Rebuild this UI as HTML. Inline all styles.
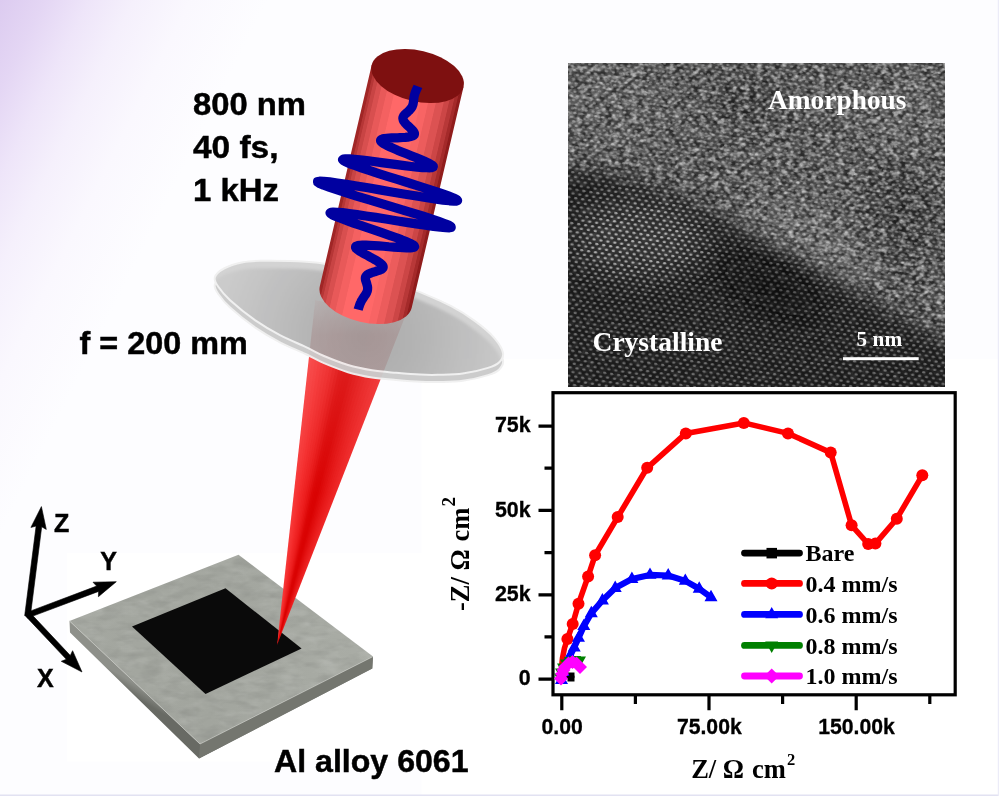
<!DOCTYPE html>
<html lang="en">
<head>
<meta charset="utf-8">
<title>Femtosecond laser processing of Al alloy 6061</title>
<style>
html,body{margin:0;padding:0;background:#fdfdff;}
body{width:999px;height:796px;overflow:hidden;position:relative;font-family:"Liberation Sans",sans-serif;}
svg{position:absolute;left:0;top:0;display:block;}
.sans{font-family:"Liberation Sans",sans-serif;font-weight:bold;fill:#000;}
.serif{font-family:"Liberation Serif",serif;font-weight:bold;fill:#000;}
</style>
</head>
<body>
<svg width="999" height="796" viewBox="0 0 999 796">
<defs>
  <linearGradient id="bg" gradientUnits="userSpaceOnUse" x1="0" y1="0" x2="214.6" y2="107.3">
    <stop offset="0" stop-color="#dccbf0"/>
    <stop offset="0.167" stop-color="#e4d6f4"/>
    <stop offset="0.333" stop-color="#eee5f9"/>
    <stop offset="0.5" stop-color="#f5f0fc"/>
    <stop offset="0.71" stop-color="#faf8fe"/>
    <stop offset="1" stop-color="#fdfdff"/>
  </linearGradient>
  <linearGradient id="cyl" x1="0" y1="0" x2="1" y2="0">
    <stop offset="0.000" stop-color="#a02626"/>
    <stop offset="0.029" stop-color="#a02626"/>
    <stop offset="0.037" stop-color="#b63636"/>
    <stop offset="0.056" stop-color="#b63636"/>
    <stop offset="0.064" stop-color="#c84444"/>
    <stop offset="0.096" stop-color="#c84444"/>
    <stop offset="0.104" stop-color="#d84f4f"/>
    <stop offset="0.149" stop-color="#d84f4f"/>
    <stop offset="0.157" stop-color="#e85959"/>
    <stop offset="0.216" stop-color="#e85959"/>
    <stop offset="0.224" stop-color="#f46161"/>
    <stop offset="0.296" stop-color="#f46161"/>
    <stop offset="0.304" stop-color="#ff6868"/>
    <stop offset="0.589" stop-color="#ff6868"/>
    <stop offset="0.597" stop-color="#f86464"/>
    <stop offset="0.669" stop-color="#f86464"/>
    <stop offset="0.677" stop-color="#ec5c5c"/>
    <stop offset="0.749" stop-color="#ec5c5c"/>
    <stop offset="0.757" stop-color="#dc5252"/>
    <stop offset="0.829" stop-color="#dc5252"/>
    <stop offset="0.837" stop-color="#cc4646"/>
    <stop offset="0.883" stop-color="#cc4646"/>
    <stop offset="0.891" stop-color="#b83838"/>
    <stop offset="0.929" stop-color="#b83838"/>
    <stop offset="0.937" stop-color="#a42a2a"/>
    <stop offset="0.963" stop-color="#a42a2a"/>
    <stop offset="0.971" stop-color="#901c1c"/>
    <stop offset="1.000" stop-color="#901c1c"/>
  </linearGradient>
  <radialGradient id="lens" gradientUnits="userSpaceOnUse" cx="368" cy="330" r="150">
    <stop offset="0" stop-color="#a9a9a9"/>
    <stop offset="0.3" stop-color="#b0b0b0"/>
    <stop offset="0.6" stop-color="#bbbbbb"/>
    <stop offset="0.8" stop-color="#c3c3c3"/>
    <stop offset="1" stop-color="#cacaca"/>
  </radialGradient>
  <linearGradient id="pside" gradientUnits="userSpaceOnUse" x1="134" y1="683" x2="128" y2="693">
    <stop offset="0" stop-color="#8e908a"/>
    <stop offset="1" stop-color="#686a64"/>
  </linearGradient>
  <linearGradient id="plate" gradientUnits="userSpaceOnUse" x1="70" y1="620" x2="372" y2="660">
    <stop offset="0" stop-color="#a4a7a0"/>
    <stop offset="0.5" stop-color="#a2a59e"/>
    <stop offset="1" stop-color="#aaada6"/>
  </linearGradient>
  <mask id="conemask" maskUnits="userSpaceOnUse" x="270" y="295" width="140" height="355"><polygon points="277,645 315.3,300 404.5,318" fill="#fff"/></mask>
  <linearGradient id="conehl" gradientUnits="userSpaceOnUse" x1="0" y1="330" x2="0" y2="495">
    <stop offset="0" stop-color="#fff" stop-opacity="0.13"/>
    <stop offset="1" stop-color="#fff" stop-opacity="0"/>
  </linearGradient>
  <clipPath id="lensclip"><path d="M214.8,277.5 C215.7,274.4 219.3,271.0 224.0,268.5 C228.7,266.0 236.8,263.6 243.0,262.3 C249.2,261.0 253.7,261.0 261.5,260.8 C269.3,260.6 280.6,260.7 290.0,261.0 C299.4,261.3 308.0,261.6 318.0,262.8 C328.0,264.1 338.8,265.9 350.0,268.5 C361.2,271.1 373.9,274.8 385.0,278.5 C396.1,282.2 405.4,286.1 416.3,290.6 C427.2,295.1 440.5,300.6 450.3,305.7 C460.1,310.8 468.1,316.0 475.4,321.4 C482.7,326.8 489.6,332.5 494.2,337.8 C498.8,343.1 502.2,348.9 503.0,353.0 C503.8,357.1 501.5,360.0 499.0,362.5 C496.5,365.0 494.0,366.0 488.0,367.9 C482.0,369.8 471.2,372.5 462.8,373.6 C454.4,374.8 444.8,374.6 437.7,374.8 C430.6,375.0 426.9,374.9 420.0,374.6 C413.1,374.3 404.0,373.5 396.0,372.8 C388.0,372.1 380.0,371.6 372.0,370.3 C364.0,369.0 356.0,367.4 348.0,365.0 C340.0,362.6 331.1,359.0 324.0,356.0 C316.9,353.0 312.8,350.2 305.5,346.8 C298.2,343.4 288.8,339.8 280.4,335.4 C272.0,331.0 263.7,326.2 255.3,320.4 C246.9,314.5 236.2,305.9 230.1,300.3 C224.0,294.7 221.1,290.8 218.5,287.0 C215.9,283.2 213.9,280.6 214.8,277.5 Z"/></clipPath>
  <linearGradient id="beamfade" gradientUnits="userSpaceOnUse" x1="0" y1="300" x2="0" y2="335">
    <stop offset="0" stop-color="#7a2c2c" stop-opacity="0"/>
    <stop offset="1" stop-color="#7a2c2c" stop-opacity="0.12"/>
  </linearGradient>
  <filter id="metal" x="0" y="0" width="100%" height="100%" color-interpolation-filters="sRGB">
    <feTurbulence type="fractalNoise" baseFrequency="0.05 0.12" numOctaves="3" seed="4" result="n"/>
    <feColorMatrix in="n" type="matrix" values="0 0 0 0 1  0 0 0 0 1  0 0 0 0 1  1.8 0 0 0 -0.75" result="w"/>
    <feColorMatrix in="n" type="matrix" values="0 0 0 0 0.2  0 0 0 0 0.2  0 0 0 0 0.2  0 -1.8 0 0 1.05" result="k"/>
    <feMerge><feMergeNode in="w"/><feMergeNode in="k"/></feMerge>
    <feComposite in2="SourceGraphic" operator="in"/>
  </filter>
  <clipPath id="temclip"><rect x="568" y="63" width="377" height="324"/></clipPath>
  <filter id="blur2" x="-5%" y="-10%" width="110%" height="120%"><feGaussianBlur stdDeviation="1.6"/></filter>
  <filter id="blur8" x="-20%" y="-20%" width="140%" height="140%"><feGaussianBlur stdDeviation="9"/></filter>
  <filter id="blur14" x="-30%" y="-30%" width="160%" height="160%"><feGaussianBlur stdDeviation="14"/></filter>
  <filter id="grain" x="0" y="0" width="100%" height="100%" color-interpolation-filters="sRGB">
    <feTurbulence type="fractalNoise" baseFrequency="0.16 0.21" numOctaves="2" seed="11" result="n"/>
    <feColorMatrix in="n" type="matrix" values="0 0 0 0 1  0 0 0 0 1  0 0 0 0 1  2.8 0 0 0 -1.05" result="w"/>
    <feColorMatrix in="n" type="matrix" values="0 0 0 0 0  0 0 0 0 0  0 0 0 0 0  0 -2.8 0 0 1.7" result="k"/>
    <feMerge><feMergeNode in="w"/><feMergeNode in="k"/></feMerge>
  </filter>
  <pattern id="dots" width="7" height="8.4" patternUnits="userSpaceOnUse" patternTransform="rotate(9 568 63)">
    <ellipse cx="1.75" cy="2.1" rx="1.7" ry="1.25" fill="#fff"/>
    <ellipse cx="5.25" cy="6.3" rx="1.7" ry="1.25" fill="#fff"/>
  </pattern>
  <mask id="dotmask" maskUnits="userSpaceOnUse" x="568" y="63" width="377" height="324">
    <rect x="568" y="63" width="377" height="324" fill="#5a5a5a"/>
    <g filter="url(#blur8)">
      <path d="M540,170 C640,172 700,207 760,242 C830,277 890,312 975,362 L975,420 L540,420 Z" fill="#5c5c5c"/>
    </g>
    <g filter="url(#blur14)">
      <ellipse cx="640" cy="240" rx="70" ry="42" fill="#a0a0a0"/>
      <ellipse cx="770" cy="290" rx="55" ry="22" fill="#3c3c3c" transform="rotate(25 770 290)"/>
    </g>
  </mask>
  <mask id="grainmask" maskUnits="userSpaceOnUse" x="568" y="63" width="377" height="324">
    <rect x="568" y="63" width="377" height="324" fill="#fff"/>
    <g filter="url(#blur8)">
      <path d="M540,166 C640,168 700,203 760,238 C830,273 890,308 975,358 L975,420 L540,420 Z" fill="#303030"/>
    </g>
  </mask>
</defs>

<!-- background -->
<rect x="0" y="0" width="999" height="796" fill="#fdfdff"/>
<rect x="0" y="0" width="999" height="796" fill="url(#bg)"/>
<!-- white panels -->
<rect x="421.5" y="359" width="576.5" height="435.5" fill="#ffffff"/>
<rect x="67" y="553" width="360" height="208.5" fill="#ffffff"/>
<rect x="0" y="794.5" width="999" height="1.5" fill="#e2e2f2"/>
<rect x="997.8" y="0" width="1.2" height="796" fill="#ececf8"/>

<g id="scene">
  <!-- plate -->
  <polygon points="69.5,621 70,632.5 199,758.5 372.3,668.5 373,656.6 200,744" fill="url(#pside)"/>
  <polygon points="200,744 373,656.6 372.3,668.5 199,758.5" fill="#74766f"/>
  <polygon points="69.5,621 238.5,554.8 373,656.6 200,744" fill="url(#plate)"/>
  <polygon points="69.5,621 238.5,554.8 373,656.6 200,744" filter="url(#metal)" opacity="0.12"/>
  <polyline points="69.5,621 200,744 373,656.6" fill="none" stroke="#c4c6c0" stroke-width="1" stroke-opacity="0.7"/>
  <polygon points="132,626.5 225.5,588.3 301.6,648.5 205.5,694" fill="#0a0a0a"/>
  <!-- coordinate axes -->
  <g fill="#000" stroke="#000" stroke-width="0.6" stroke-linejoin="miter">
    <polygon points="30.3,616.4 41.7,526.8 46.3,529.4 41.4,506.6 30.9,527.4 36.1,526.1 24.7,615.6"/>
    <polygon points="27.5,618.1 98.6,591.4 98.4,596.7 116.3,581.7 93.0,582.2 96.6,586.1 25.5,612.9"/>
    <polygon points="25.0,615.4 66.3,659.3 61.3,661.3 82.0,672.0 72.6,650.7 70.3,655.5 29.0,611.6"/>
  </g>
  <!-- focused beam -->
  <g id="cone" mask="url(#conemask)"><polygon points="277,647 300.0,297.0 430.0,323.0" fill="#f73838"/><polygon points="277,647 319.0,300.8 430.0,323.0" fill="#f63434"/><polygon points="277,647 322.7,301.5 430.0,323.0" fill="#f53030"/><polygon points="277,647 326.4,302.2 430.0,323.0" fill="#f42b2b"/><polygon points="277,647 330.2,303.0 430.0,323.0" fill="#f12727"/><polygon points="277,647 333.9,303.8 430.0,323.0" fill="#ef2323"/><polygon points="277,647 337.6,304.5 430.0,323.0" fill="#ed1f1f"/><polygon points="277,647 341.3,305.2 430.0,323.0" fill="#ea1a1a"/><polygon points="277,647 345.0,306.0 430.0,323.0" fill="#e61414"/><polygon points="277,647 348.8,306.8 430.0,323.0" fill="#e10e0e"/><polygon points="277,647 352.5,307.5 430.0,323.0" fill="#dd0707"/><polygon points="277,647 356.2,308.2 430.0,323.0" fill="#db0404"/><polygon points="277,647 359.9,309.0 430.0,323.0" fill="#da0303"/><polygon points="277,647 363.6,309.8 430.0,323.0" fill="#da0303"/><polygon points="277,647 367.3,310.5 430.0,323.0" fill="#dc0707"/><polygon points="277,647 371.1,311.2 430.0,323.0" fill="#df0b0b"/><polygon points="277,647 374.8,312.0 430.0,323.0" fill="#e10f0f"/><polygon points="277,647 378.5,312.8 430.0,323.0" fill="#e41313"/><polygon points="277,647 382.2,313.5 430.0,323.0" fill="#e61717"/><polygon points="277,647 385.9,314.2 430.0,323.0" fill="#e81b1b"/><polygon points="277,647 389.6,315.0 430.0,323.0" fill="#ea1e1e"/><polygon points="277,647 393.4,315.8 430.0,323.0" fill="#ec2222"/><polygon points="277,647 397.1,316.5 430.0,323.0" fill="#ee2525"/><polygon points="277,647 400.8,317.2 430.0,323.0" fill="#ef2828"/><rect x="270" y="295" width="140" height="200" fill="url(#conehl)"/></g>
  <!-- lens -->
  <g opacity="0.97">
    <path transform="translate(0,7.2)" d="M214.8,277.5 C215.7,274.4 219.3,271.0 224.0,268.5 C228.7,266.0 236.8,263.6 243.0,262.3 C249.2,261.0 253.7,261.0 261.5,260.8 C269.3,260.6 280.6,260.7 290.0,261.0 C299.4,261.3 308.0,261.6 318.0,262.8 C328.0,264.1 338.8,265.9 350.0,268.5 C361.2,271.1 373.9,274.8 385.0,278.5 C396.1,282.2 405.4,286.1 416.3,290.6 C427.2,295.1 440.5,300.6 450.3,305.7 C460.1,310.8 468.1,316.0 475.4,321.4 C482.7,326.8 489.6,332.5 494.2,337.8 C498.8,343.1 502.2,348.9 503.0,353.0 C503.8,357.1 501.5,360.0 499.0,362.5 C496.5,365.0 494.0,366.0 488.0,367.9 C482.0,369.8 471.2,372.5 462.8,373.6 C454.4,374.8 444.8,374.6 437.7,374.8 C430.6,375.0 426.9,374.9 420.0,374.6 C413.1,374.3 404.0,373.5 396.0,372.8 C388.0,372.1 380.0,371.6 372.0,370.3 C364.0,369.0 356.0,367.4 348.0,365.0 C340.0,362.6 331.1,359.0 324.0,356.0 C316.9,353.0 312.8,350.2 305.5,346.8 C298.2,343.4 288.8,339.8 280.4,335.4 C272.0,331.0 263.7,326.2 255.3,320.4 C246.9,314.5 236.2,305.9 230.1,300.3 C224.0,294.7 221.1,290.8 218.5,287.0 C215.9,283.2 213.9,280.6 214.8,277.5 Z" fill="#cbcbcb" stroke="#f0f0f0" stroke-width="2"/>
    <path d="M214.8,277.5 C215.7,274.4 219.3,271.0 224.0,268.5 C228.7,266.0 236.8,263.6 243.0,262.3 C249.2,261.0 253.7,261.0 261.5,260.8 C269.3,260.6 280.6,260.7 290.0,261.0 C299.4,261.3 308.0,261.6 318.0,262.8 C328.0,264.1 338.8,265.9 350.0,268.5 C361.2,271.1 373.9,274.8 385.0,278.5 C396.1,282.2 405.4,286.1 416.3,290.6 C427.2,295.1 440.5,300.6 450.3,305.7 C460.1,310.8 468.1,316.0 475.4,321.4 C482.7,326.8 489.6,332.5 494.2,337.8 C498.8,343.1 502.2,348.9 503.0,353.0 C503.8,357.1 501.5,360.0 499.0,362.5 C496.5,365.0 494.0,366.0 488.0,367.9 C482.0,369.8 471.2,372.5 462.8,373.6 C454.4,374.8 444.8,374.6 437.7,374.8 C430.6,375.0 426.9,374.9 420.0,374.6 C413.1,374.3 404.0,373.5 396.0,372.8 C388.0,372.1 380.0,371.6 372.0,370.3 C364.0,369.0 356.0,367.4 348.0,365.0 C340.0,362.6 331.1,359.0 324.0,356.0 C316.9,353.0 312.8,350.2 305.5,346.8 C298.2,343.4 288.8,339.8 280.4,335.4 C272.0,331.0 263.7,326.2 255.3,320.4 C246.9,314.5 236.2,305.9 230.1,300.3 C224.0,294.7 221.1,290.8 218.5,287.0 C215.9,283.2 213.9,280.6 214.8,277.5 Z" fill="#d2d2d2"/>
    <g clip-path="url(#lensclip)">
      <path transform="translate(-2,7.5)" filter="url(#blur2)" d="M214.8,277.5 C215.7,274.4 219.3,271.0 224.0,268.5 C228.7,266.0 236.8,263.6 243.0,262.3 C249.2,261.0 253.7,261.0 261.5,260.8 C269.3,260.6 280.6,260.7 290.0,261.0 C299.4,261.3 308.0,261.6 318.0,262.8 C328.0,264.1 338.8,265.9 350.0,268.5 C361.2,271.1 373.9,274.8 385.0,278.5 C396.1,282.2 405.4,286.1 416.3,290.6 C427.2,295.1 440.5,300.6 450.3,305.7 C460.1,310.8 468.1,316.0 475.4,321.4 C482.7,326.8 489.6,332.5 494.2,337.8 C498.8,343.1 502.2,348.9 503.0,353.0 C503.8,357.1 501.5,360.0 499.0,362.5 C496.5,365.0 494.0,366.0 488.0,367.9 C482.0,369.8 471.2,372.5 462.8,373.6 C454.4,374.8 444.8,374.6 437.7,374.8 C430.6,375.0 426.9,374.9 420.0,374.6 C413.1,374.3 404.0,373.5 396.0,372.8 C388.0,372.1 380.0,371.6 372.0,370.3 C364.0,369.0 356.0,367.4 348.0,365.0 C340.0,362.6 331.1,359.0 324.0,356.0 C316.9,353.0 312.8,350.2 305.5,346.8 C298.2,343.4 288.8,339.8 280.4,335.4 C272.0,331.0 263.7,326.2 255.3,320.4 C246.9,314.5 236.2,305.9 230.1,300.3 C224.0,294.7 221.1,290.8 218.5,287.0 C215.9,283.2 213.9,280.6 214.8,277.5 Z" fill="url(#lens)"/>
      <polygon points="277,645 315.3,300 404.5,318" fill="url(#beamfade)"/>
    </g>
    <path d="M214.8,277.5 C215.7,274.4 219.3,271.0 224.0,268.5 C228.7,266.0 236.8,263.6 243.0,262.3 C249.2,261.0 253.7,261.0 261.5,260.8 C269.3,260.6 280.6,260.7 290.0,261.0 C299.4,261.3 308.0,261.6 318.0,262.8 C328.0,264.1 338.8,265.9 350.0,268.5 C361.2,271.1 373.9,274.8 385.0,278.5 C396.1,282.2 405.4,286.1 416.3,290.6 C427.2,295.1 440.5,300.6 450.3,305.7 C460.1,310.8 468.1,316.0 475.4,321.4 C482.7,326.8 489.6,332.5 494.2,337.8 C498.8,343.1 502.2,348.9 503.0,353.0 C503.8,357.1 501.5,360.0 499.0,362.5 C496.5,365.0 494.0,366.0 488.0,367.9 C482.0,369.8 471.2,372.5 462.8,373.6 C454.4,374.8 444.8,374.6 437.7,374.8 C430.6,375.0 426.9,374.9 420.0,374.6 C413.1,374.3 404.0,373.5 396.0,372.8 C388.0,372.1 380.0,371.6 372.0,370.3 C364.0,369.0 356.0,367.4 348.0,365.0 C340.0,362.6 331.1,359.0 324.0,356.0 C316.9,353.0 312.8,350.2 305.5,346.8 C298.2,343.4 288.8,339.8 280.4,335.4 C272.0,331.0 263.7,326.2 255.3,320.4 C246.9,314.5 236.2,305.9 230.1,300.3 C224.0,294.7 221.1,290.8 218.5,287.0 C215.9,283.2 213.9,280.6 214.8,277.5 Z" fill="none" stroke="#f0f0f0" stroke-width="2"/>
  </g>
  <!-- laser cylinder -->
  <g transform="translate(417.6,76) rotate(13.2)">
    <path d="M-47.2,0 L-47.2,227 A47.2,25.5 0 0 0 47.2,227 L47.2,0 Z" fill="url(#cyl)"/>
    <ellipse cx="0" cy="0" rx="47.2" ry="25.5" fill="#7e1010"/>
  </g>
  <!-- pulse -->
  <path transform="translate(417.5,76) rotate(13.2)" d="M2.8,10.0 L2.7,10.8 L2.5,11.5 L2.4,12.2 L2.2,13.0 L2.1,13.8 L1.9,14.5 L1.8,15.2 L1.7,16.0 L1.6,16.8 L1.5,17.5 L1.5,18.2 L1.4,19.0 L1.4,19.8 L1.4,20.5 L1.4,21.2 L1.5,22.0 L1.6,22.8 L1.6,23.5 L1.7,24.2 L1.8,25.0 L1.9,25.8 L2.0,26.5 L2.0,27.2 L2.1,28.0 L2.1,28.8 L2.0,29.5 L1.9,30.2 L1.8,31.0 L1.6,31.8 L1.3,32.5 L1.0,33.2 L0.6,34.0 L0.2,34.8 L-0.2,35.5 L-0.7,36.2 L-1.2,37.0 L-1.7,37.8 L-2.3,38.5 L-2.8,39.2 L-3.3,40.0 L-3.8,40.8 L-4.1,41.5 L-4.4,42.2 L-4.6,43.0 L-4.7,43.8 L-4.6,44.5 L-4.3,45.2 L-3.9,46.0 L-3.4,46.8 L-2.6,47.5 L-1.7,48.2 L-0.7,49.0 L0.4,49.8 L1.7,50.5 L3.0,51.2 L4.3,52.0 L5.6,52.8 L6.8,53.5 L7.9,54.2 L8.9,55.0 L9.6,55.8 L10.1,56.5 L10.3,57.2 L10.2,58.0 L9.7,58.8 L8.9,59.5 L7.7,60.2 L6.2,61.0 L4.4,61.8 L2.2,62.5 L-0.2,63.2 L-2.8,64.0 L-5.5,64.8 L-8.3,65.5 L-11.0,66.2 L-13.6,67.0 L-15.9,67.8 L-18.0,68.5 L-19.6,69.2 L-20.7,70.0 L-21.3,70.8 L-21.2,71.5 L-20.5,72.2 L-19.1,73.0 L-17.0,73.8 L-14.3,74.5 L-10.9,75.2 L-7.0,76.0 L-2.7,76.8 L2.0,77.5 L7.0,78.2 L12.0,79.0 L16.9,79.8 L21.6,80.5 L25.8,81.2 L29.6,82.0 L32.6,82.8 L34.7,83.5 L36.0,84.2 L36.1,85.0 L35.2,85.8 L33.2,86.5 L30.0,87.2 L25.8,88.0 L20.6,88.8 L14.5,89.5 L7.7,90.2 L0.3,91.0 L-7.4,91.8 L-15.2,92.5 L-22.9,93.2 L-30.2,94.0 L-36.9,94.8 L-42.7,95.5 L-47.5,96.2 L-51.1,97.0 L-53.2,97.8 L-53.9,98.5 L-52.9,99.2 L-50.4,100.0 L-46.3,100.8 L-40.6,101.5 L-33.7,102.2 L-25.5,103.0 L-16.3,103.8 L-6.4,104.5 L4.0,105.2 L14.5,106.0 L24.8,106.8 L34.6,107.5 L43.6,108.2 L51.5,109.0 L58.1,109.8 L63.0,110.5 L66.2,111.2 L67.5,112.0 L66.8,112.8 L64.2,113.5 L59.6,114.2 L53.2,115.0 L45.1,115.8 L35.6,116.5 L24.9,117.2 L13.4,118.0 L1.4,118.8 L-10.7,119.5 L-22.7,120.2 L-34.1,121.0 L-44.5,121.8 L-53.7,122.5 L-61.4,123.2 L-67.3,124.0 L-71.3,124.8 L-73.2,125.5 L-73.0,126.2 L-70.7,127.0 L-66.3,127.8 L-60.0,128.5 L-52.0,129.2 L-42.5,130.0 L-31.9,130.8 L-20.3,131.5 L-8.3,132.2 L3.8,133.0 L15.8,133.8 L27.1,134.5 L37.6,135.2 L46.8,136.0 L54.6,136.8 L60.6,137.5 L64.9,138.2 L67.1,139.0 L67.4,139.8 L65.7,140.5 L62.2,141.2 L56.9,142.0 L50.0,142.8 L41.9,143.5 L32.7,144.2 L22.7,145.0 L12.4,145.8 L1.9,146.5 L-8.4,147.2 L-18.2,148.0 L-27.2,148.8 L-35.2,149.5 L-41.9,150.2 L-47.2,151.0 L-51.0,151.8 L-53.2,152.5 L-53.9,153.2 L-52.9,154.0 L-50.4,154.8 L-46.6,155.5 L-41.6,156.2 L-35.6,157.0 L-28.7,157.8 L-21.3,158.5 L-13.6,159.2 L-5.8,160.0 L1.8,160.8 L9.1,161.5 L15.8,162.2 L21.7,163.0 L26.7,163.8 L30.7,164.5 L33.7,165.2 L35.5,166.0 L36.2,166.8 L35.8,167.5 L34.4,168.2 L32.0,169.0 L28.9,169.8 L25.0,170.5 L20.6,171.2 L15.9,172.0 L11.0,172.8 L6.0,173.5 L1.1,174.2 L-3.6,175.0 L-7.9,175.8 L-11.7,176.5 L-14.9,177.2 L-17.5,178.0 L-19.5,178.8 L-20.7,179.5 L-21.3,180.2 L-21.2,181.0 L-20.5,181.8 L-19.3,182.5 L-17.6,183.2 L-15.5,184.0 L-13.1,184.8 L-10.5,185.5 L-7.7,186.2 L-5.0,187.0 L-2.3,187.8 L0.3,188.5 L2.7,189.2 L4.8,190.0 L6.6,190.8 L8.0,191.5 L9.1,192.2 L9.9,193.0 L10.2,193.8 L10.3,194.5 L10.0,195.2 L9.5,196.0 L8.7,196.8 L7.7,197.5 L6.6,198.2 L5.3,199.0 L4.0,199.8 L2.7,200.5 L1.4,201.2 L0.2,202.0 L-0.9,202.8 L-1.9,203.5 L-2.8,204.2 L-3.5,205.0 L-4.0,205.8 L-4.4,206.5 L-4.6,207.2 L-4.7,208.0 L-4.6,208.8 L-4.4,209.5 L-4.1,210.2 L-3.7,211.0 L-3.2,211.8 L-2.8,212.5 L-2.3,213.2 L-1.9,214.0 L-1.5,214.8 L-1.1,215.5 L-0.7,216.2 L-0.4,217.0 L-0.2,217.8 L0.0,218.5 L0.1,219.2 L0.2,220.0 L0.2,220.8 L0.1,221.5 L-0.0,222.2 L-0.2,223.0 L-0.4,223.8 L-0.6,224.5 L-0.9,225.2 L-1.2,226.0 L-1.5,226.8 L-1.8,227.5 L-2.0,228.2 L-2.3,229.0 L-2.6,229.8 L-2.8,230.5 L-3.1,231.2 L-3.3,232.0 L-3.5,232.8 L-3.6,233.5 L-3.8,234.2 L-3.9,235.0 L-4.0,235.8 L-4.1,236.5 L-4.1,237.2 L-4.2,238.0 L-4.3,238.8 L-4.3,239.5 L-4.4,240.2 L-4.4,241.0" fill="none" stroke="#0000a0" stroke-width="9.2" stroke-linejoin="round" stroke-linecap="butt"/>
</g>
<g id="tem">
  <g clip-path="url(#temclip)">
    <rect x="568" y="63" width="377" height="324" fill="#4e4e4e"/>
    <g filter="url(#blur14)">
      <ellipse cx="610" cy="105" rx="70" ry="45" fill="#585858"/>
      <ellipse cx="745" cy="100" rx="30" ry="22" fill="#343434"/>
      <ellipse cx="905" cy="215" rx="40" ry="50" fill="#383838"/>
      <ellipse cx="810" cy="248" rx="70" ry="38" fill="#646464" transform="rotate(28 810 248)"/>
      <ellipse cx="900" cy="110" rx="50" ry="40" fill="#5a5a5a"/>
    </g>
    <g filter="url(#blur8)">
      <path d="M540,166 C640,168 700,203 760,238 C830,273 890,308 975,358 L975,420 L540,420 Z" fill="#1e1e1e"/>
    </g>
    <g filter="url(#blur14)">
      <ellipse cx="640" cy="238" rx="65" ry="38" fill="#303030"/>
      <ellipse cx="770" cy="288" rx="52" ry="20" fill="#080808" transform="rotate(25 770 288)"/>
    </g>
    <rect x="568" y="63" width="377" height="324" filter="url(#grain)" opacity="0.46" mask="url(#grainmask)"/>
    <rect x="568" y="63" width="377" height="324" fill="url(#dots)" mask="url(#dotmask)"/>
  </g>
  <g class="serif" style="fill:#fff">
    <text x="768" y="108.9" font-size="27.8" textLength="138.5" lengthAdjust="spacingAndGlyphs">Amorphous</text>
    <text x="592.5" y="351" font-size="27.4" textLength="130" lengthAdjust="spacingAndGlyphs">Crystalline</text>
    <text x="856.6" y="345.6" font-size="21.3">5 nm</text>
  </g>
  <rect x="843" y="357.2" width="75.7" height="3" fill="#fff"/>
</g>
<g id="chart">
<rect x="553" y="392.7" width="402.2" height="302.1" fill="#fff" stroke="#000" stroke-width="3.2"/>
<path d="M561.8,696 v14.2 M709.0,696 v14.2 M856.2,696 v14.2 M635.4,696 v8 M782.6,696 v8 M929.8,696 v8 M552,679.1 h-13.5 M552,594.8 h-13.5 M552,510.4 h-13.5 M552,426.1 h-13.5 M552,636.9 h-7.5 M552,552.6 h-7.5 M552,468.2 h-7.5" stroke="#000" stroke-width="3.2" fill="none"/>
<g class="sans" font-size="21.2" text-anchor="middle" stroke="#000" stroke-width="0.3">
<text x="562.1" y="734">0.00</text>
<text x="709.3" y="734">75.00k</text>
<text x="856.5" y="734">150.00k</text>
</g>
<g class="sans" font-size="21.4" text-anchor="end" stroke="#000" stroke-width="0.3">
<text x="530.6" y="685.4">0</text>
<text x="530.6" y="601.0">25k</text>
<text x="530.6" y="516.7">50k</text>
<text x="530.6" y="432.4">75k</text>
</g>
<text class="serif" x="691.2" y="777.7" font-size="26.5">Z/ Ω <tspan dx="1.2">cm</tspan><tspan font-size="16.5" dx="1.2" dy="-12.5">2</tspan></text>
<text class="serif" transform="translate(468.8,611) rotate(-90)" font-size="26.5">-Z/ Ω <tspan dx="1.2">cm</tspan><tspan font-size="19" dx="1.2" dy="-13.5">2</tspan></text>
<polyline points="561.5,678.0 563.0,676.5 566.0,676.0 569.0,676.5 572.0,677.0" fill="none" stroke="#000" stroke-width="5" stroke-linejoin="round" stroke-linecap="round"/>
<path d="M567.5,672.5 h7 v9 h-7 z" fill="#000"/>
<polyline points="561.8,678.0 561.5,668.0 562.5,658.0 564.5,648.0 567.4,639.0 572.7,624.0 578.5,603.7 588.1,576.4 595.1,555.3 617.7,517.1 647.2,467.8 685.8,433.4 743.8,422.9 788.0,433.4 830.7,452.6 851.6,525.3 868.2,544.0 875.4,543.6 896.8,518.7 922.3,475.3" fill="none" stroke="#ff0000" stroke-width="5.6" stroke-linejoin="round" stroke-linecap="round"/>
<g fill="#ff0000"><circle cx="567.4" cy="639.0" r="6"/><circle cx="572.7" cy="624.0" r="6"/><circle cx="578.5" cy="603.7" r="6"/><circle cx="588.1" cy="576.4" r="6"/><circle cx="595.1" cy="555.3" r="6"/><circle cx="617.7" cy="517.1" r="6"/><circle cx="647.2" cy="467.8" r="6"/><circle cx="685.8" cy="433.4" r="6"/><circle cx="743.8" cy="422.9" r="6"/><circle cx="788.0" cy="433.4" r="6"/><circle cx="830.7" cy="452.6" r="6"/><circle cx="851.6" cy="525.3" r="6"/><circle cx="868.2" cy="544.0" r="6"/><circle cx="875.4" cy="543.6" r="6"/><circle cx="896.8" cy="518.7" r="6"/><circle cx="922.3" cy="475.3" r="6"/></g>
<polyline points="561.5,680.0 563.0,672.0 566.0,664.0 570.0,656.0 574.2,647.5 578.5,637.9 583.8,626.2 591.3,613.3 602.4,600.5 615.2,588.1 631.9,579.1 650.0,574.9 668.2,575.5 685.3,580.9 699.2,588.8 711.0,597.3" fill="none" stroke="#0000ff" stroke-width="6.2" stroke-linejoin="round" stroke-linecap="round"/>
<path d="M561.5,672.5 l6.5,11.4 h-13.0 z M563.0,664.5 l6.5,11.4 h-13.0 z M566.0,656.5 l6.5,11.4 h-13.0 z M570.0,648.5 l6.5,11.4 h-13.0 z M574.2,640.0 l6.5,11.4 h-13.0 z M578.5,630.4 l6.5,11.4 h-13.0 z M583.8,618.7 l6.5,11.4 h-13.0 z M591.3,605.8 l6.5,11.4 h-13.0 z M602.4,593.0 l6.5,11.4 h-13.0 z M615.2,580.6 l6.5,11.4 h-13.0 z M631.9,571.6 l6.5,11.4 h-13.0 z M650.0,567.4 l6.5,11.4 h-13.0 z M668.2,568.0 l6.5,11.4 h-13.0 z M685.3,573.4 l6.5,11.4 h-13.0 z M699.2,581.3 l6.5,11.4 h-13.0 z M711.0,589.8 l6.5,11.4 h-13.0 z" fill="#0000ff"/>
<polyline points="560.0,677.0 561.0,672.0 563.0,667.0 566.0,663.0 570.0,660.5 575.0,659.5 580.0,660.0" fill="none" stroke="#008000" stroke-width="5.2" stroke-linejoin="round" stroke-linecap="round"/>
<path d="M560.0,683.9 l6.0,-10.5 h-12.0 z M561.0,678.9 l6.0,-10.5 h-12.0 z M563.0,673.9 l6.0,-10.5 h-12.0 z M566.0,669.9 l6.0,-10.5 h-12.0 z M570.0,667.4 l6.0,-10.5 h-12.0 z M575.0,666.4 l6.0,-10.5 h-12.0 z M580.0,666.9 l6.0,-10.5 h-12.0 z" fill="#008000"/>
<polyline points="561.0,678.5 562.0,674.0 563.5,670.0 565.5,666.5 568.5,663.5 572.5,662.0 576.5,663.5 580.0,667.0" fill="none" stroke="#ff00ff" stroke-width="7.5" stroke-linejoin="round" stroke-linecap="round"/>
<path d="M561.0,671.5 l7.0,7.0 l-7.0,7.0 l-7.0,-7.0 z M562.0,667.0 l7.0,7.0 l-7.0,7.0 l-7.0,-7.0 z M563.5,663.0 l7.0,7.0 l-7.0,7.0 l-7.0,-7.0 z M565.5,659.5 l7.0,7.0 l-7.0,7.0 l-7.0,-7.0 z M568.5,656.5 l7.0,7.0 l-7.0,7.0 l-7.0,-7.0 z M572.5,655.0 l7.0,7.0 l-7.0,7.0 l-7.0,-7.0 z M576.5,656.5 l7.0,7.0 l-7.0,7.0 l-7.0,-7.0 z M580.0,660.0 l7.0,7.0 l-7.0,7.0 l-7.0,-7.0 z" fill="#ff00ff"/>
<line x1="744.5" y1="553.1" x2="799.5" y2="553.1" stroke="#000" stroke-width="6.8" stroke-linecap="round"/>
<line x1="744.5" y1="583.4" x2="799.5" y2="583.4" stroke="#ff0000" stroke-width="6.8" stroke-linecap="round"/>
<line x1="744.5" y1="614.4" x2="799.5" y2="614.4" stroke="#0000ff" stroke-width="6.8" stroke-linecap="round"/>
<line x1="744.5" y1="645.4" x2="799.5" y2="645.4" stroke="#008000" stroke-width="6.8" stroke-linecap="round"/>
<line x1="744.5" y1="676.0" x2="799.5" y2="676.0" stroke="#ff00ff" stroke-width="6.8" stroke-linecap="round"/>
<rect x="766.5" y="547.9" width="10.5" height="10.5" fill="#000"/>
<circle cx="771.7" cy="583.4" r="6" fill="#ff0000"/>
<path d="M771.7,606.9 l6.5,11.4 h-13.0 z" fill="#0000ff"/>
<path d="M771.7,652.9 l6.5,-11.4 h-13.0 z" fill="#008000"/>
<path d="M771.7,668.5 l7.5,7.5 l-7.5,7.5 l-7.5,-7.5 z" fill="#ff00ff"/>
<g class="serif" font-size="24">
<text x="805.5" y="561.0">Bare</text>
<text x="805.5" y="592.0">0.4 mm/s</text>
<text x="805.5" y="623.0">0.6 mm/s</text>
<text x="805.5" y="653.5">0.8 mm/s</text>
<text x="805.5" y="683.8">1.0 mm/s</text>
</g>
</g>
<g id="labels" class="sans" stroke="#000" stroke-width="0.45">
  <text x="193" y="114.8" font-size="30.5" textLength="113" lengthAdjust="spacingAndGlyphs">800 nm</text>
  <text x="193" y="157.6" font-size="30.5" textLength="85.5" lengthAdjust="spacingAndGlyphs">40 fs,</text>
  <text x="193" y="200.6" font-size="30.5" textLength="86" lengthAdjust="spacingAndGlyphs">1 kHz</text>
  <text x="79.6" y="354" font-size="30.5" textLength="168.2" lengthAdjust="spacingAndGlyphs">f = 200 mm</text>
  <text x="274" y="772" font-size="30.5" textLength="194.6" lengthAdjust="spacingAndGlyphs">Al alloy 6061</text>
  <text x="54" y="532.3" font-size="25">Z</text>
  <text x="100.2" y="569.8" font-size="25">Y</text>
  <text x="37" y="686.5" font-size="25">X</text>
</g>
</svg>
</body>
</html>
